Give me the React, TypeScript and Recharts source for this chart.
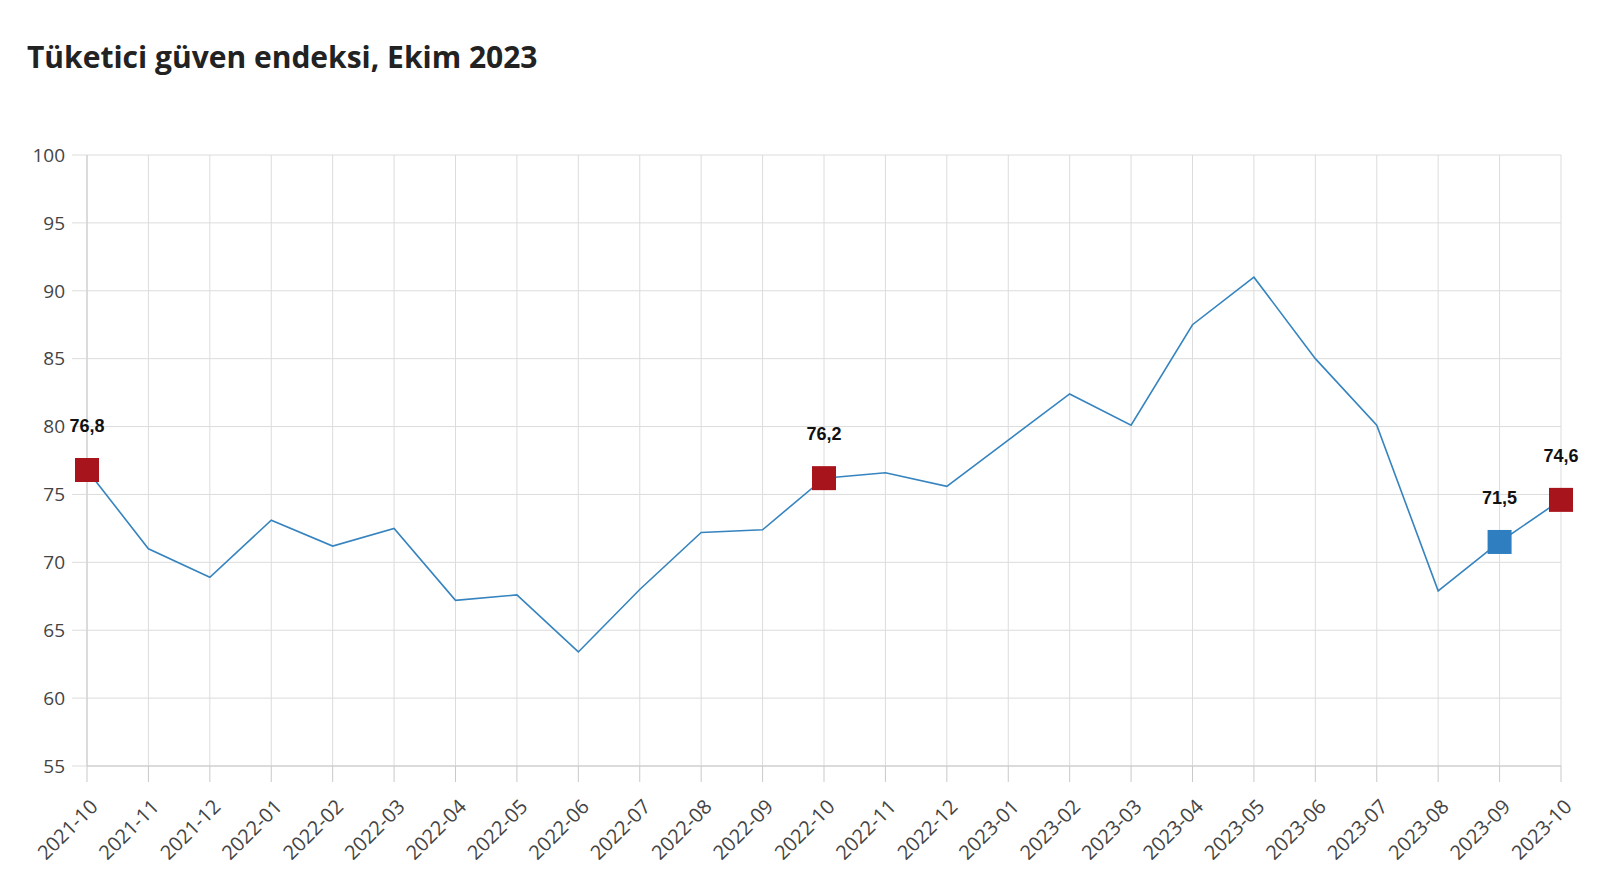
import { CartesianGrid, Line, LineChart, XAxis, YAxis } from "recharts";

const months = [
  "2021-10", "2021-11", "2021-12", "2022-01", "2022-02", "2022-03", "2022-04",
  "2022-05", "2022-06", "2022-07", "2022-08", "2022-09", "2022-10", "2022-11",
  "2022-12", "2023-01", "2023-02", "2023-03", "2023-04", "2023-05", "2023-06",
  "2023-07", "2023-08", "2023-09", "2023-10",
];
const index = [
  76.8, 71.0, 68.9, 73.1, 71.2, 72.5, 67.2, 67.6, 63.4, 68.0, 72.2, 72.4, 76.2,
  76.6, 75.6, 79.0, 82.4, 80.1, 87.5, 91.0, 85.0, 80.1, 67.9, 71.5, 74.6,
];
const redMarks = ["2021-10", "2022-10", "2023-10"];
const blueMarks = ["2023-09"];
const yTicks = [55, 60, 65, 70, 75, 80, 85, 90, 95, 100];

const LINE = "#3684bf";
const RED = "#a8141c";
const BLUE = "#2f7fc0";
const GRID = "#dcdcdc";
const AXIS = "#c9c9c9";
const TICK_FONT = "'Open Sans', sans-serif";

const data = months.map((m, i) => ({ month: m, value: index[i] }));

function Marker(props: any) {
  const { cx, cy, payload, index: i } = props;
  const red = redMarks.includes(payload.month);
  const blue = blueMarks.includes(payload.month);
  if (!red && !blue) return <g key={i} />;
  return (
    <g key={i}>
      <rect x={cx - 12} y={cy - 12} width={24} height={24} fill={red ? RED : BLUE} />
      <text
        x={cx}
        y={cy - 38}
        textAnchor="middle"
        fontFamily="'Liberation Sans', Arial, sans-serif"
        fontWeight={700}
        fontSize={18}
        fill="#111"
      >
        {payload.value.toFixed(1).replace(".", ",")}
      </text>
    </g>
  );
}

function MonthTick(props: any) {
  const { x, payload } = props;
  return (
    <g transform={`translate(${x + 12},808)`}>
      <text
        x={0}
        y={0}
        textAnchor="end"
        transform="rotate(-45)"
        fontFamily={TICK_FONT}
        fontSize={20}
        fill="#444"
      >
        {payload.value}
      </text>
    </g>
  );
}

export default function App() {
  return (
    <div style={{ position: "absolute", left: 0, top: 0, width: 1600, height: 896, background: "#fff" }}>
      <div
        style={{
          position: "absolute",
          left: 27,
          top: 36,
          fontFamily: "'Open Sans', sans-serif",
          fontWeight: 700,
          fontSize: 30,
          color: "#222",
          whiteSpace: "nowrap",
        }}
      >
        Tüketici güven endeksi, Ekim 2023
      </div>
      <LineChart
        width={1600}
        height={896}
        data={data}
        margin={{ top: 155, right: 39, bottom: 30, left: 0 }}
      >
        <CartesianGrid stroke={GRID} strokeWidth={1} />
        <XAxis
          dataKey="month"
          interval={0}
          height={100}
          tickSize={16}
          stroke={AXIS}
          tickLine={{ stroke: AXIS }}
          tick={<MonthTick />}
        />
        <YAxis
          domain={[55, 100]}
          ticks={yTicks}
          width={87}
          tickSize={15}
          tickMargin={7}
          stroke={AXIS}
          tickLine={{ stroke: GRID }}
          tick={{ fontFamily: TICK_FONT, fontSize: 19, fill: "#444" }}
        />
        <Line
          type="linear"
          dataKey="value"
          stroke={LINE}
          strokeWidth={1.6}
          dot={(p: any) => <Marker key={p.index} {...p} />}
          activeDot={false}
          isAnimationActive={false}
        />
      </LineChart>
    </div>
  );
}
